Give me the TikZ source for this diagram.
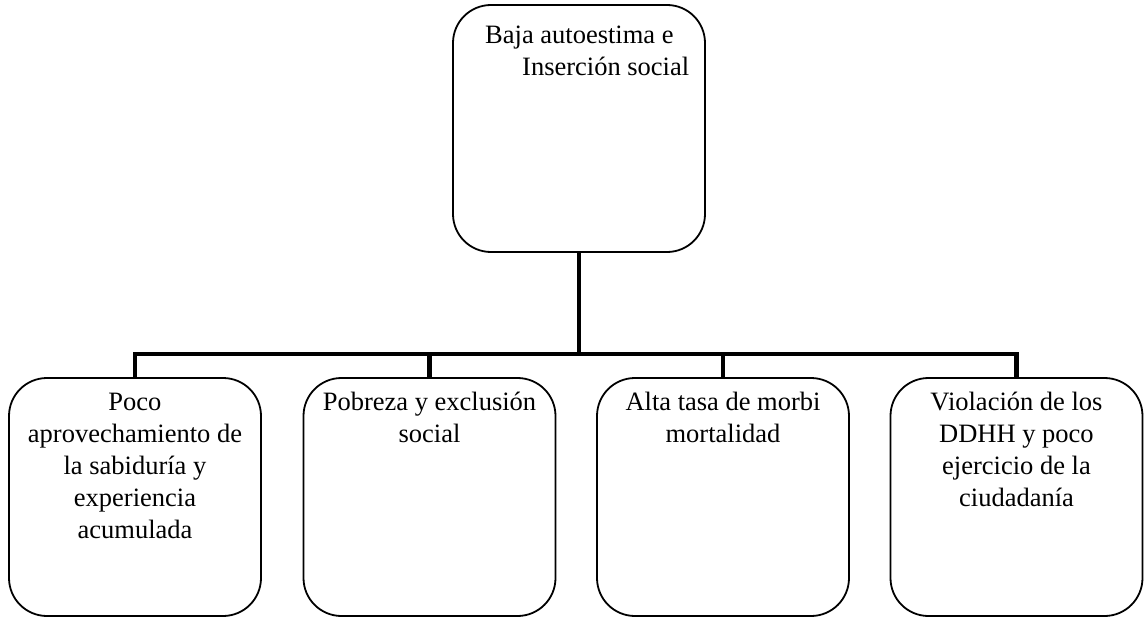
\documentclass[tikz,border=0pt]{standalone}
\usepackage{fontspec}
\setmainfont{Liberation Serif}
\begin{document}
\begin{tikzpicture}[x=1pt,y=-1pt,
  box/.style={draw=black, line width=1.8pt, rounded corners=38pt, minimum width=252pt, inner sep=0pt},
  conn/.style={draw=black, line width=4.5pt, line join=miter},
  lbl/.style={inner sep=0pt, align=center, font=\fontsize{26.5}{32}\selectfont, anchor=north}]
\useasboundingbox (0,0) rectangle (1144,618);
% boxes
\node[box, minimum height=247pt] (top) at (579,128.5) {};
\node[box, minimum height=238pt] (b1) at (135,497) {};
\node[box, minimum height=238pt] (b2) at (429.5,497) {};
\node[box, minimum height=238pt] (b3) at (723,497) {};
\node[box, minimum height=238pt] (b4) at (1016.5,497) {};
% texts
\node[lbl, anchor=north west, align=left] (ttop) at (485,20.6) {\strut Baja autoestima e\\\hspace*{37pt}Inserción social};
\node[lbl] (t1) at (135,387.6) {\strut Poco\\aprovechamiento de\\la sabiduría y\\experiencia\\acumulada};
\node[lbl] (t2) at (429.5,387.6) {\strut Pobreza y exclusión\\social};
\node[lbl] (t3) at (723,387.6) {\strut Alta tasa de morbi\\mortalidad};
\node[lbl] (t4) at (1016.5,387.6) {\strut Violación de los\\DDHH y poco\\ejercicio de la\\ciudadanía};
% connectors
\coordinate (j) at (579,354);
\draw[conn] (top.south) -- (j);
\draw[conn] (b1.north) |- (b4.north |- j) -- (b4.north);
\draw[conn] (b2.north) -- (b2.north |- j);
\draw[conn] (b3.north) -- (b3.north |- j);
\end{tikzpicture}
\end{document}
